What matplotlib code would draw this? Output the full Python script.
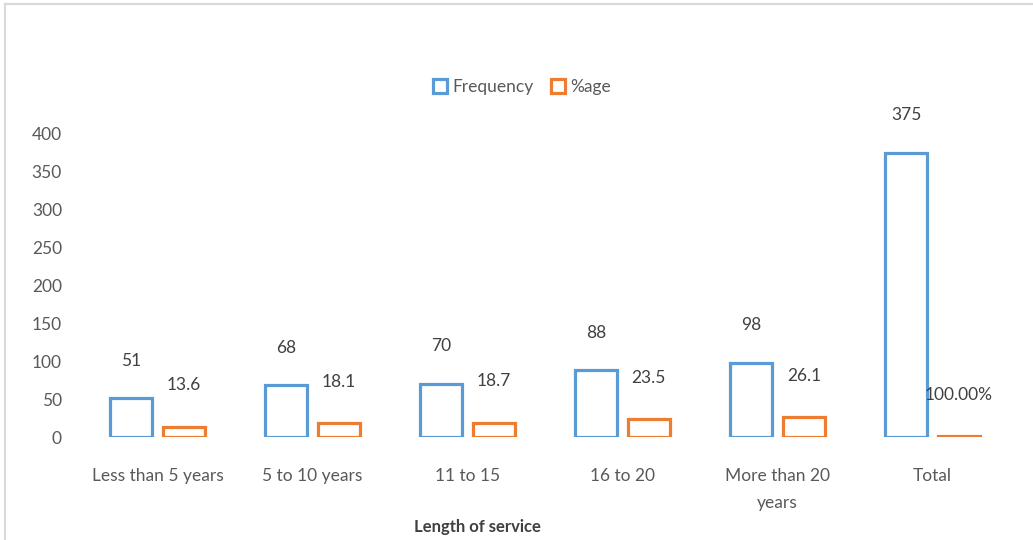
import matplotlib.pyplot as plt
from matplotlib.lines import Line2D
import numpy as np

plt.rcParams['font.family'] = ['Lato', 'DejaVu Sans']

categorias = ['Less than 5 years', '5 to 10 years', '11 to 15', '16 to 20',
              'More than 20\nyears', 'Total']
frequencia = [51, 68, 70, 88, 98, 375]
percentual = [13.6, 18.1, 18.7, 23.5, 26.1, 1.0]
rotulos_freq = ['51', '68', '70', '88', '98', '375']
rotulos_perc = ['13.6', '18.1', '18.7', '23.5', '26.1', '100.00%']

azul = '#5B9BD5'
laranja = '#ED7D31'
cinza = '#595959'

fig = plt.figure(figsize=(10.33, 5.40), dpi=100)
ax = fig.add_axes([80 / 1033, 1 - 437 / 540, 930 / 1033, 303 / 540])

x = np.arange(len(categorias))
largura = 0.27

barras_f = ax.bar(x - 0.17, frequencia, largura, facecolor='white',
                  edgecolor=azul, linewidth=2.3, label='Frequency')
barras_p = ax.bar(x + 0.17, percentual, largura, facecolor='white',
                  edgecolor=laranja, linewidth=2.3, label='%age')

# rotulos de dados
for b, txt in zip(barras_f, rotulos_freq):
    ax.annotate(txt, (b.get_x() + b.get_width() / 2, b.get_height()),
                xytext=(0, 27), textcoords='offset points', ha='center',
                va='center', fontsize=12.5, color='#404040')
for b, txt in zip(barras_p, rotulos_perc):
    ax.annotate(txt, (b.get_x() + b.get_width() / 2, b.get_height()),
                xytext=(0, 30), textcoords='offset points', ha='center',
                va='center', fontsize=12.5, color='#404040')

ax.set_xlim(-0.5, len(categorias) - 0.5)
ax.set_ylim(0, 400)
ax.set_yticks(range(0, 401, 50))
ax.set_xticks(x)
ax.set_xticklabels(categorias, linespacing=1.9)

for lado in ['top', 'right', 'left', 'bottom']:
    ax.spines[lado].set_visible(False)
ax.tick_params(axis='y', length=0, labelsize=12.5, labelcolor=cinza, pad=13)
ax.tick_params(axis='x', length=0, labelsize=12.5, labelcolor=cinza, pad=22)
for lbl in ax.get_yticklabels():
    lbl.set_horizontalalignment('right')

leg = ax.legend(loc='center', bbox_to_anchor=(522 / 1033, 1 - 87 / 540),
                bbox_transform=fig.transFigure, ncol=2, frameon=False,
                fontsize=12.5, handlelength=0.8, handleheight=0.8,
                handletextpad=0.3, columnspacing=1.0)
for t in leg.get_texts():
    t.set_color(cinza)

fig.text(477 / 1033, 1 - 527 / 540, 'Length of service', ha='center',
         va='center', fontsize=12, fontweight='bold', color='#404040')

# borda do grafico
fig.add_artist(Line2D([5 / 1033, 5 / 1033], [0, 1 - 4 / 540],
                      transform=fig.transFigure, color='#D9D9D9', lw=1.5))
fig.add_artist(Line2D([5 / 1033, 1], [1 - 4 / 540, 1 - 4 / 540],
                      transform=fig.transFigure, color='#D9D9D9', lw=1.5))

fig.savefig('out.png', dpi=100)
